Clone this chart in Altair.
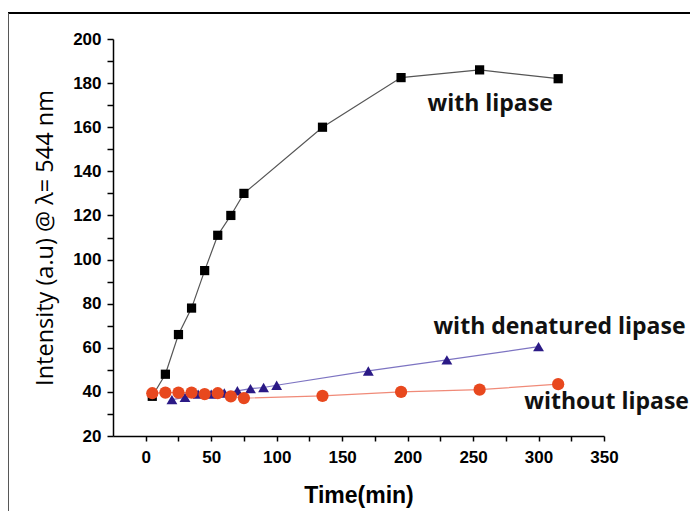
import altair as alt
import pandas as pd

# with lipase (black squares)
t_lip = [5, 15, 25, 35, 45, 55, 65, 75, 135, 195, 255, 315]
v_lip = [38, 48, 66, 78, 95, 111, 120, 130, 160, 182.5, 186, 182]
# with denatured lipase (triangles)
t_den = [20, 30, 40, 50, 60, 70, 80, 90, 100, 170, 230, 300]
v_den = [36.5, 37.5, 39, 39, 39.5, 40.5, 41.5, 42, 43, 49.5, 54.5, 60.5]
# without lipase (circles)
t_wo = [5, 15, 25, 35, 45, 55, 65, 75, 135, 195, 255, 315]
v_wo = [39.4, 39.7, 39.7, 39.7, 39, 39.4, 38, 37.2, 38.2, 40, 41, 43.5]

series = ["with lipase", "with denatured lipase", "without lipase"]
marker_colors = ["#000000", "#2B1A86", "#E8481E"]
line_colors = ["#555555", "#7D74C2", "#F08A78"]
shapes = ["square", "triangle-up", "circle"]
sizes = [85, 150, 95]

# label anchors (data units)
lab_text = ["with lipase", "with denatured lipase", "without lipase"]
lab_x = [263, 316, 352]
lab_y = [170.5, 69.4, 35.4]

rows = []
for s, ts, vs in zip(series, [t_lip, t_den, t_wo], [v_lip, v_den, v_wo]):
    for t, v in zip(ts, vs):
        rows.append({"series": s, "t": t, "v": v})
df = pd.DataFrame(rows)
labels = pd.DataFrame({"text": lab_text, "x": lab_x, "y": lab_y})

xticks = list(range(0, 351, 25))
yticks = list(range(20, 201, 10))

xs = alt.Scale(domain=[-25, 350], nice=False, zero=False)
ys = alt.Scale(domain=[20, 200], nice=False, zero=False)

TF = "Liberation Sans"

xax = alt.Axis(values=xticks, title="Time(min)",
               labelExpr="datum.value % 50 == 0 ? datum.label : ''",
               labelOverlap=False, labelFlush=False, labelBound=False,
               grid=False, domainColor="#000", domainWidth=1.5, tickColor="#000",
               tickWidth=1.5, tickSize=5, labelFont=TF, labelFontWeight="bold",
               labelFontSize=17, labelColor="#000", labelPadding=8,
               titleFont=TF, titleFontWeight="bold", titleFontSize=23,
               titleColor="#000", titlePadding=19)
yax = alt.Axis(values=yticks, title="Intensity (a.u) @ λ= 544 nm",
               labelExpr="datum.value % 20 == 0 ? datum.label : ''",
               labelOverlap=False, labelFlush=False, labelBound=False,
               grid=False, domainColor="#000", domainWidth=1.5, tickColor="#000",
               tickWidth=1.5, tickSize=6, labelFont=TF, labelFontWeight="bold",
               labelFontSize=17, labelColor="#000", labelPadding=6,
               titleFont="Open Sans", titleFontWeight="normal", titleFontSize=23.5,
               titleColor="#000", titlePadding=15)

lines = alt.Chart(df).mark_line(strokeWidth=1.2).encode(
    x=alt.X("t:Q", scale=xs, axis=xax),
    y=alt.Y("v:Q", scale=ys, axis=yax),
    color=alt.Color("series:N", scale=alt.Scale(domain=series, range=line_colors), legend=None),
    detail="series:N",
)

points = alt.Chart(df).mark_point(filled=True, opacity=1, strokeWidth=0).encode(
    x=alt.X("t:Q", scale=xs, axis=xax),
    y=alt.Y("v:Q", scale=ys, axis=yax),
    color=alt.Color("series:N", scale=alt.Scale(domain=series, range=marker_colors), legend=None),
    shape=alt.Shape("series:N", scale=alt.Scale(domain=series, range=shapes), legend=None),
    size=alt.Size("series:N", scale=alt.Scale(domain=series, range=sizes), legend=None),
)

text = alt.Chart(labels).mark_text(font="Open Sans", fontWeight="bold", fontSize=23,
                                   color="#111", align="center", baseline="middle").encode(
    x=alt.X("x:Q", scale=xs, axis=xax),
    y=alt.Y("y:Q", scale=ys, axis=yax),
    text="text:N",
)

frame_top = alt.Chart(labels).mark_rule(color="#000", strokeWidth=2).encode(
    x=alt.value(-105), x2=alt.value(590), y=alt.value(-26))
frame_left = alt.Chart(labels).mark_rule(color="#555", strokeWidth=1.5).encode(
    x=alt.value(-105), y=alt.value(-26), y2=alt.value(490))

chart = alt.layer(frame_top, frame_left, lines, points, text).resolve_scale(
    color="independent"
).properties(
    width=491, height=397,
    autosize=alt.AutoSizeParams(type="none"),
    padding={"left": 105, "top": 31, "right": 86, "bottom": 75},
).configure(background="white").configure_view(stroke=None)

chart.save("out.html", embed_options={"renderer": "svg", "actions": False})
